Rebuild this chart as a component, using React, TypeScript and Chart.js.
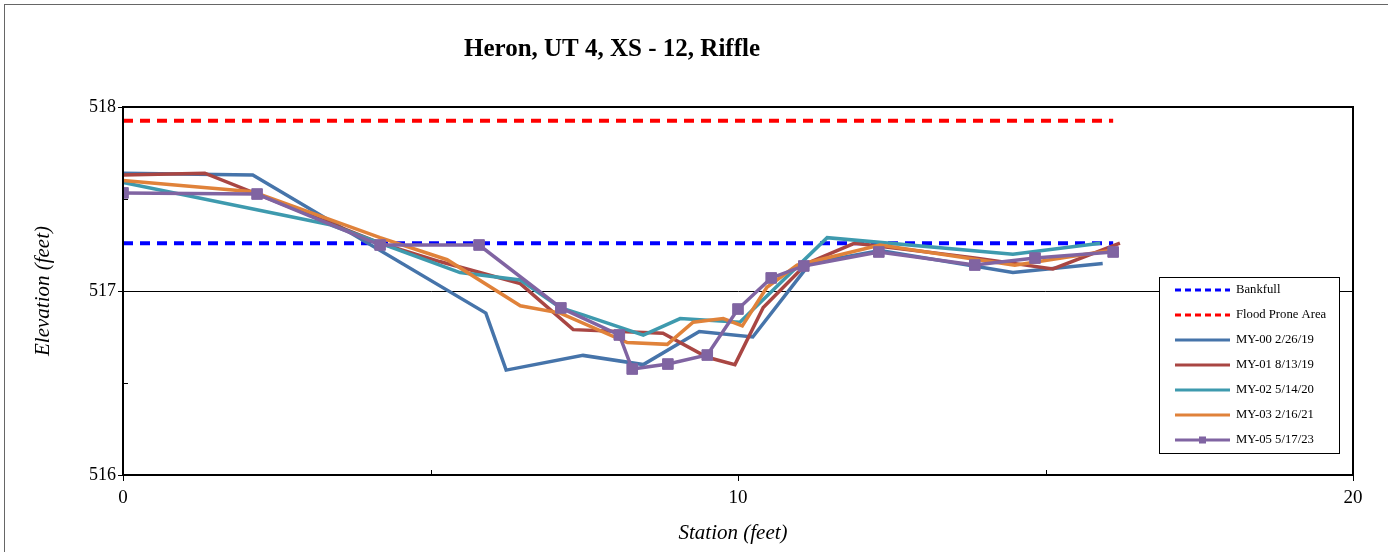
import React, { useEffect, useRef } from "react";
import { Chart, registerables } from "chart.js";

Chart.register(...registerables);

const chartTitle = "Heron, UT 4, XS - 12, Riffle";
const xAxisTitle = "Station (feet)";
const yAxisTitle = "Elevation (feet)";

const xMin = 0;
const xMax = 20;
const xStep = 10;
const yMin = 516;
const yMax = 518;
const yStep = 1;
const xMinorTicks = [5, 15];
const yMinorTicks = [516.5, 517.5];

const bankfullStation = [0, 16.1];
const bankfullElev = [517.26, 517.26];
const floodStation = [0, 16.1];
const floodElev = [517.925, 517.925];

const my00Station = [0, 2.11, 5.9, 6.23, 7.48, 8.46, 9.37, 10.24, 11.17, 12.31, 14.47, 15.93];
const my00Elev = [517.64, 517.63, 516.88, 516.57, 516.65, 516.6, 516.78, 516.75, 517.15, 517.22, 517.1, 517.15];

const my01Station = [0, 1.33, 4.18, 5.15, 6.46, 7.32, 8.78, 9.5, 9.95, 10.41, 11.12, 11.9, 13.85, 15.12, 16.21];
const my01Elev = [517.63, 517.64, 517.26, 517.16, 517.04, 516.79, 516.77, 516.64, 516.6, 516.91, 517.15, 517.26, 517.18, 517.12, 517.26];

const my02Station = [0, 3.37, 5.48, 6.46, 7.11, 7.48, 8.46, 9.06, 10.03, 11.45, 14.47, 15.89];
const my02Elev = [517.59, 517.36, 517.1, 517.06, 516.91, 516.87, 516.76, 516.85, 516.83, 517.29, 517.2, 517.26];

const my03Station = [0, 2.11, 4.18, 5.27, 6.46, 7.11, 8.2, 8.85, 9.27, 9.76, 10.07, 10.47, 10.96, 12.31, 14.5, 16.05];
const my03Elev = [517.6, 517.54, 517.29, 517.17, 516.92, 516.88, 516.72, 516.71, 516.83, 516.85, 516.81, 517.02, 517.14, 517.25, 517.14, 517.22];

const my05Station = [0, 2.18, 4.18, 5.79, 7.12, 8.07, 8.28, 8.86, 9.5, 10.0, 10.54, 11.07, 12.29, 13.85, 14.83, 16.1];
const my05Elev = [517.533, 517.527, 517.25, 517.25, 516.908, 516.761, 516.576, 516.603, 516.652, 516.902, 517.071, 517.136, 517.212, 517.141, 517.179, 517.212];

const seriesLabels = ["Bankfull", "Flood Prone Area", "MY-00 2/26/19", "MY-01 8/13/19", "MY-02 5/14/20", "MY-03 2/16/21", "MY-05 5/17/23"];
const seriesColors = ["#0000FF", "#FF0000", "#4674AA", "#A94643", "#3E9AAE", "#E0823A", "#8064A2"];

const toPoints = (xs: number[], ys: number[]) => xs.map((x, i) => ({ x, y: ys[i] }));

const SERIF = "'Liberation Serif', 'DejaVu Serif', serif";

const extrasPlugin = {
  id: "extras",
  afterDraw(chart: any) {
    const ctx = chart.ctx;
    const area = chart.chartArea;
    const xs = chart.scales.x;
    const ys = chart.scales.y;
    ctx.save();

    // outer border
    ctx.strokeStyle = "#666";
    ctx.lineWidth = 1;
    ctx.strokeRect(4.5, 4.5, 1500, 700);

    // plot frame
    ctx.strokeStyle = "#000";
    ctx.lineWidth = 2;
    ctx.strokeRect(area.left, area.top, area.right - area.left, area.bottom - area.top);

    // minor ticks (inside)
    ctx.lineWidth = 1;
    ctx.beginPath();
    xMinorTicks.forEach((v) => {
      const px = Math.round(xs.getPixelForValue(v)) + 0.5;
      ctx.moveTo(px, area.bottom);
      ctx.lineTo(px, area.bottom - 5);
    });
    yMinorTicks.forEach((v) => {
      const py = Math.round(ys.getPixelForValue(v)) + 0.5;
      ctx.moveTo(area.left, py);
      ctx.lineTo(area.left + 5, py);
    });
    ctx.stroke();

    // title
    ctx.fillStyle = "#000";
    ctx.font = `bold 25px ${SERIF}`;
    ctx.textAlign = "center";
    ctx.textBaseline = "middle";
    ctx.fillText(chartTitle, 612, 50);

    // axis titles
    ctx.font = `italic 21px ${SERIF}`;
    ctx.fillText(xAxisTitle, 733, 533);
    ctx.save();
    ctx.translate(43, (area.top + area.bottom) / 2);
    ctx.rotate(-Math.PI / 2);
    ctx.fillText(yAxisTitle, 0, 0);
    ctx.restore();

    // legend
    const lx = 1159.5, ly = 277.5, lw = 180, lh = 176;
    ctx.fillStyle = "#fff";
    ctx.fillRect(lx, ly, lw, lh);
    ctx.strokeStyle = "#000";
    ctx.lineWidth = 1;
    ctx.strokeRect(lx, ly, lw, lh);
    ctx.font = `12.7px ${SERIF}`;
    ctx.textAlign = "left";
    chart.data.datasets.forEach((ds: any, i: number) => {
      const y = 290 + i * 25;
      ctx.strokeStyle = ds.borderColor;
      ctx.lineWidth = 3;
      ctx.setLineDash(ds.borderDash && ds.borderDash.length ? [6, 4] : []);
      ctx.beginPath();
      ctx.moveTo(1175, y);
      ctx.lineTo(1230, y);
      ctx.stroke();
      ctx.setLineDash([]);
      if (ds.pointRadius > 0) {
        ctx.fillStyle = ds.borderColor;
        ctx.fillRect(1199, y - 3.5, 7, 7);
      }
      ctx.fillStyle = "#000";
      ctx.fillText(ds.label, 1236, y);
    });

    ctx.restore();
  },
};

export default function App() {
  const canvasRef = useRef<HTMLCanvasElement | null>(null);

  useEffect(() => {
    if (!canvasRef.current) return;
    const lineSeries = (idx: number, xs: number[], ys: number[], order: number, extra: any = {}) => ({
      label: seriesLabels[idx],
      data: toPoints(xs, ys),
      borderColor: seriesColors[idx],
      backgroundColor: seriesColors[idx],
      borderWidth: 3.5,
      pointRadius: 0,
      showLine: true,
      tension: 0,
      order,
      ...extra,
    });
    const datasets = [
      lineSeries(0, bankfullStation, bankfullElev, 6, { borderDash: [10, 7], borderWidth: 4 }),
      lineSeries(1, floodStation, floodElev, 5, { borderDash: [10, 7], borderWidth: 4 }),
      lineSeries(2, my00Station, my00Elev, 4),
      lineSeries(3, my01Station, my01Elev, 3),
      lineSeries(4, my02Station, my02Elev, 2),
      lineSeries(5, my03Station, my03Elev, 1),
      lineSeries(6, my05Station, my05Elev, 0, {
        pointRadius: 7.5,
        pointStyle: "rect",
        pointBackgroundColor: seriesColors[6],
        pointBorderColor: seriesColors[6],
        pointBorderWidth: 1,
      }),
    ];

    const chart = new Chart(canvasRef.current, {
      type: "scatter",
      data: { datasets },
      options: {
        animation: false,
        responsive: false,
        layout: { padding: { top: 107, right: 35, left: 0, bottom: 0 } },
        plugins: { legend: { display: false }, title: { display: false }, tooltip: { enabled: false } },
        scales: {
          x: {
            type: "linear",
            min: xMin,
            max: xMax,
            afterFit: (s: any) => { s.height = 77; },
            ticks: { stepSize: xStep, color: "#000", font: { family: SERIF, size: 19 }, padding: 6, maxRotation: 0 },
            grid: { display: true, drawOnChartArea: false, drawTicks: true, tickLength: 6, color: "#000" },
            border: { display: true, color: "#000", width: 2 },
          },
          y: {
            type: "linear",
            min: yMin,
            max: yMax,
            afterFit: (s: any) => { s.width = 123; },
            ticks: { stepSize: yStep, color: "#000", font: { family: SERIF, size: 18 }, padding: 2 },
            grid: { display: true, drawTicks: true, tickLength: 5, color: "#000", lineWidth: 1 },
            border: { display: true, color: "#000", width: 2 },
          },
        },
      },
      plugins: [extrasPlugin],
    } as any);
    return () => chart.destroy();
  }, []);

  return (
    <div style={{ position: "fixed", left: 0, top: 0, width: 1388, height: 552, background: "#fff" }}>
      <canvas ref={canvasRef} width={1388} height={552} />
    </div>
  );
}
